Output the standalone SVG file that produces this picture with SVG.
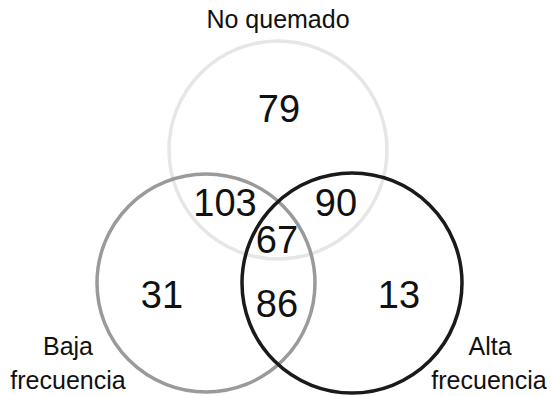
<svg xmlns="http://www.w3.org/2000/svg" width="553" height="396" viewBox="0 0 553 396">
<style>
.c{fill:none;stroke-width:3.5}
.n{font-family:"Liberation Sans",Arial,sans-serif;font-size:38px;fill:#111;text-anchor:middle}
.l{font-family:"Liberation Sans",Arial,sans-serif;font-size:25px;fill:#111;text-anchor:middle}
</style>
<rect width="553" height="396" fill="#fff"/>
<g id="no-quemado">
<circle class="c" cx="278" cy="150" r="109" stroke="#e6e6e6"/>
<text class="l" x="278" y="28" font-size="24">No quemado</text>
</g>
<g id="baja-frecuencia">
<circle class="c" cx="206" cy="283" r="109" stroke="#9a9a9a"/>
<text class="l" x="68" y="355">Baja</text>
<text class="l" x="68" y="389">frecuencia</text>
</g>
<g id="alta-frecuencia">
<circle class="c" cx="352" cy="283" r="110" stroke="#1a1a1a"/>
<text class="l" x="490" y="355">Alta</text>
<text class="l" x="489" y="389">frecuencia</text>
</g>
<g id="counts">
<text class="n" x="279" y="122">79</text>
<text class="n" x="225" y="216">103</text>
<text class="n" x="336" y="216">90</text>
<text class="n" x="277" y="253">67</text>
<text class="n" x="277" y="317">86</text>
<text class="n" x="162" y="308">31</text>
<text class="n" x="399" y="308">13</text>
</g>
<g id="connectors"/>
</svg>
